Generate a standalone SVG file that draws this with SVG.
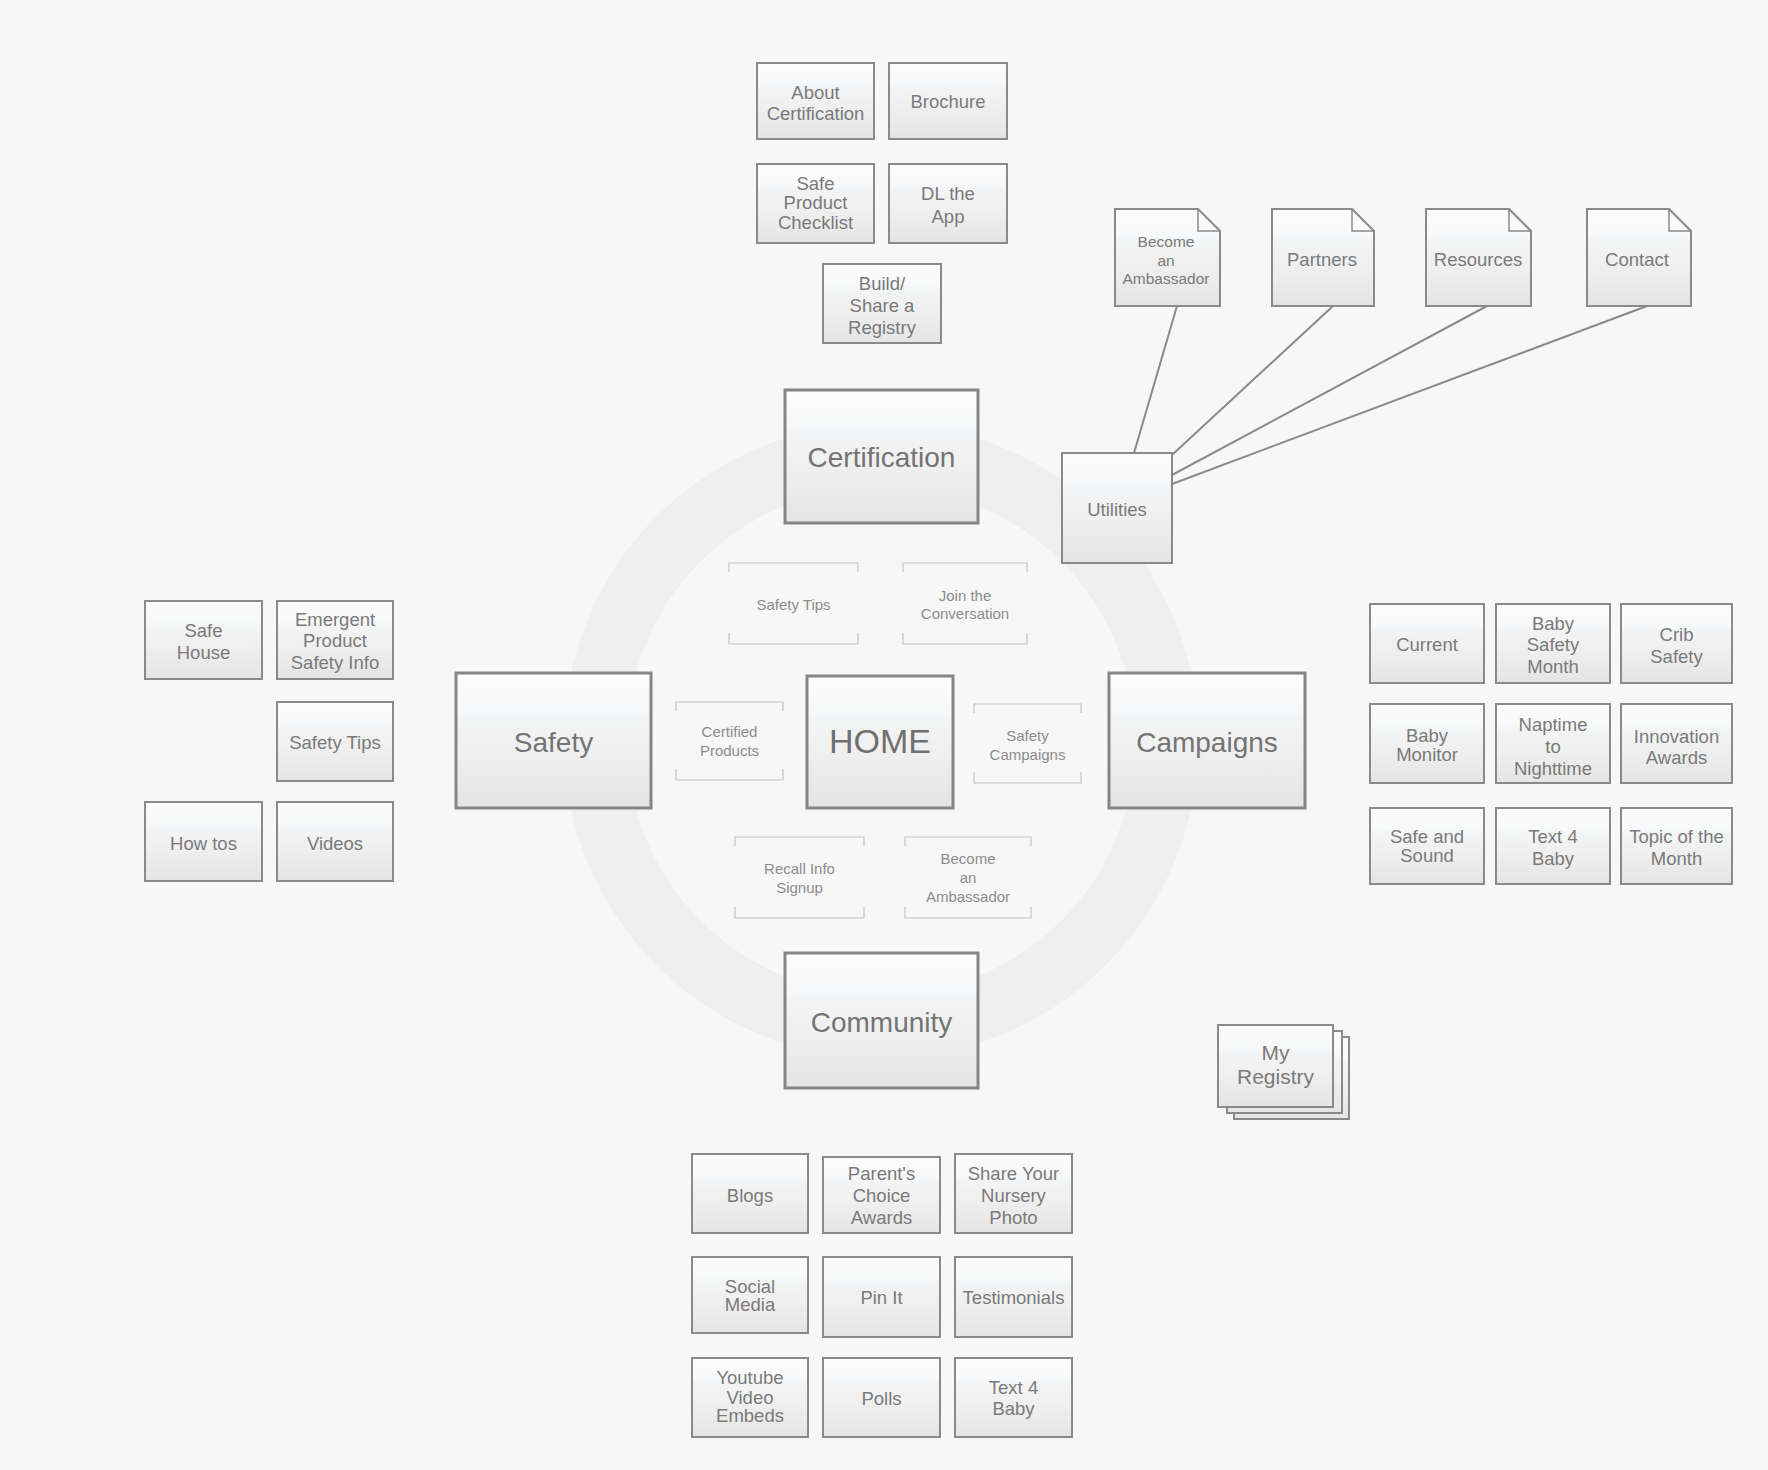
<svg xmlns="http://www.w3.org/2000/svg" width="1768" height="1470" viewBox="0 0 1768 1470">
<defs>
<linearGradient id="g" x1="0" y1="0" x2="0" y2="1">
<stop offset="0" stop-color="#fcfcfc"/>
<stop offset="0.28" stop-color="#f7f8f9"/>
<stop offset="0.32" stop-color="#f3f4f5"/>
<stop offset="0.6" stop-color="#efefef"/>
<stop offset="1" stop-color="#e4e4e4"/>
</linearGradient>
<style>
.bg{fill:#f7f7f7}
.ring{fill:none;stroke:#efefef;stroke-width:63}
.b{fill:url(#g);stroke:#8a8a8a;stroke-width:2}
.B{fill:url(#g);stroke:#858585;stroke-width:3}
.d{fill:url(#g);stroke:#8a8a8a;stroke-width:2;stroke-linejoin:miter}
.fold{fill:none;stroke:#8a8a8a;stroke-width:1.5}
.br{fill:none;stroke:#c4c4c4;stroke-width:1.2}
.c{fill:none;stroke:#8a8a8a;stroke-width:2}
text{font-family:"Liberation Sans",Arial,Helvetica,sans-serif;text-anchor:middle;fill:#7a7a7a}
.t{font-size:18.5px}
.s{font-size:15.5px}
.i{font-size:15px;fill:#8c8c8c}
.L{font-size:28px;fill:#747474}
.H{font-size:34px;fill:#707070}
.r{font-size:21px}
</style>
</defs>
<rect class="bg" x="0" y="0" width="1768" height="1470"/>
<circle class="ring" cx="881" cy="741" r="286"/>

<g id="connectors">
<line class="c" x1="1177" y1="306" x2="1134" y2="453"/>
<line class="c" x1="1333" y1="306" x2="1172" y2="455"/>
<line class="c" x1="1487" y1="306" x2="1172" y2="475"/>
<line class="c" x1="1647" y1="306" x2="1172" y2="484"/>
</g>

<!-- Certification cluster -->
<g id="about-certification"><rect class="b" x="757" y="63" width="117" height="76"/><text class="t" x="815.5" y="98.5">About</text><text class="t" x="815.5" y="119.5">Certification</text></g>
<g id="brochure"><rect class="b" x="889" y="63" width="118" height="76"/><text class="t" x="948" y="108">Brochure</text></g>
<g id="safe-product-checklist"><rect class="b" x="757" y="164" width="117" height="79"/><text class="t" x="815.5" y="189.5">Safe</text><text class="t" x="815.5" y="208.5">Product</text><text class="t" x="815.5" y="228.5">Checklist</text></g>
<g id="dl-the-app"><rect class="b" x="889" y="164" width="118" height="79"/><text class="t" x="948" y="199.5">DL the</text><text class="t" x="948" y="222.5">App</text></g>
<g id="build-share-registry"><rect class="b" x="823" y="264" width="118" height="79"/><text class="t" x="882" y="289.5">Build/</text><text class="t" x="882" y="311.5">Share a</text><text class="t" x="882" y="333.5">Registry</text></g>

<!-- Utilities cluster -->
<g id="become-ambassador-doc"><path class="d" d="M1115,209 H1198 L1220,231 V306 H1115 Z"/><path class="fold" d="M1198,209 V231 H1220"/><text class="s" x="1166" y="246.5">Become</text><text class="s" x="1166" y="265.5">an</text><text class="s" x="1166" y="283.5">Ambassador</text></g>
<g id="partners"><path class="d" d="M1272,209 H1352 L1374,231 V306 H1272 Z"/><path class="fold" d="M1352,209 V231 H1374"/><text class="t" x="1322" y="265.5">Partners</text></g>
<g id="resources"><path class="d" d="M1426,209 H1509 L1531,231 V306 H1426 Z"/><path class="fold" d="M1509,209 V231 H1531"/><text class="t" x="1478" y="265.5">Resources</text></g>
<g id="contact"><path class="d" d="M1587,209 H1669 L1691,231 V306 H1587 Z"/><path class="fold" d="M1669,209 V231 H1691"/><text class="t" x="1637" y="265.5">Contact</text></g>
<g id="utilities"><rect class="b" x="1062" y="453" width="110" height="110"/><text class="t" x="1117" y="515.5">Utilities</text></g>

<!-- Main nodes -->
<g id="certification"><rect class="B" x="785" y="390" width="193" height="133"/><text class="L" x="881.5" y="467">Certification</text></g>
<g id="safety"><rect class="B" x="456" y="673" width="195" height="135"/><text class="L" x="553.5" y="752">Safety</text></g>
<g id="home"><rect class="B" x="807" y="676" width="146" height="132"/><text class="H" x="880" y="753">HOME</text></g>
<g id="campaigns"><rect class="B" x="1109" y="673" width="196" height="135"/><text class="L" x="1207" y="752">Campaigns</text></g>
<g id="community"><rect class="B" x="785" y="953" width="193" height="135"/><text class="L" x="881.5" y="1032">Community</text></g>

<!-- Inner bracket nodes -->
<g id="inner-safety-tips"><path class="br" d="M729,572 V563 H858 V572 M729,633 V644 H858 V633"/><text class="i" x="793.5" y="610">Safety Tips</text></g>
<g id="join-conversation"><path class="br" d="M903,572 V563 H1027 V572 M903,633 V644 H1027 V633"/><text class="i" x="965" y="601">Join the</text><text class="i" x="965" y="619">Conversation</text></g>
<g id="certified-products"><path class="br" d="M676,711 V702 H783 V711 M676,769 V780 H783 V769"/><text class="i" x="729.5" y="737">Certified</text><text class="i" x="729.5" y="756">Products</text></g>
<g id="safety-campaigns"><path class="br" d="M974,713 V704 H1081 V713 M974,772 V783 H1081 V772"/><text class="i" x="1027.5" y="741">Safety</text><text class="i" x="1027.5" y="760">Campaigns</text></g>
<g id="recall-info-signup"><path class="br" d="M735,846 V837 H864 V846 M735,907 V918 H864 V907"/><text class="i" x="799.5" y="874">Recall Info</text><text class="i" x="799.5" y="893">Signup</text></g>
<g id="inner-become-ambassador"><path class="br" d="M905,846 V837 H1031 V846 M905,907 V918 H1031 V907"/><text class="i" x="968" y="864">Become</text><text class="i" x="968" y="883">an</text><text class="i" x="968" y="902">Ambassador</text></g>

<!-- Safety cluster -->
<g id="safe-house"><rect class="b" x="145" y="601" width="117" height="78"/><text class="t" x="203.5" y="636.5">Safe</text><text class="t" x="203.5" y="658.5">House</text></g>
<g id="emergent-product-safety-info"><rect class="b" x="277" y="601" width="116" height="78"/><text class="t" x="335" y="625.5">Emergent</text><text class="t" x="335" y="646.5">Product</text><text class="t" x="335" y="668.5">Safety Info</text></g>
<g id="safety-tips"><rect class="b" x="277" y="702" width="116" height="79"/><text class="t" x="335" y="748.5">Safety Tips</text></g>
<g id="how-tos"><rect class="b" x="145" y="802" width="117" height="79"/><text class="t" x="203.5" y="849.5">How tos</text></g>
<g id="videos"><rect class="b" x="277" y="802" width="116" height="79"/><text class="t" x="335" y="849.5">Videos</text></g>

<!-- Campaigns cluster -->
<g id="current"><rect class="b" x="1370" y="604" width="114" height="79"/><text class="t" x="1427" y="650.5">Current</text></g>
<g id="baby-safety-month"><rect class="b" x="1496" y="604" width="114" height="79"/><text class="t" x="1553" y="629.5">Baby</text><text class="t" x="1553" y="650.5">Safety</text><text class="t" x="1553" y="672.5">Month</text></g>
<g id="crib-safety"><rect class="b" x="1621" y="604" width="111" height="79"/><text class="t" x="1676.5" y="640.5">Crib</text><text class="t" x="1676.5" y="662.5">Safety</text></g>
<g id="baby-monitor"><rect class="b" x="1370" y="704" width="114" height="79"/><text class="t" x="1427" y="741.5">Baby</text><text class="t" x="1427" y="760.5">Monitor</text></g>
<g id="naptime-to-nighttime"><rect class="b" x="1496" y="704" width="114" height="79"/><text class="t" x="1553" y="730.5">Naptime</text><text class="t" x="1553" y="752.5">to</text><text class="t" x="1553" y="774.5">Nighttime</text></g>
<g id="innovation-awards"><rect class="b" x="1621" y="704" width="111" height="79"/><text class="t" x="1676.5" y="742.5">Innovation</text><text class="t" x="1676.5" y="763.5">Awards</text></g>
<g id="safe-and-sound"><rect class="b" x="1370" y="808" width="114" height="76"/><text class="t" x="1427" y="842.5">Safe and</text><text class="t" x="1427" y="861.5">Sound</text></g>
<g id="campaign-text4baby"><rect class="b" x="1496" y="808" width="114" height="76"/><text class="t" x="1553" y="842.5">Text 4</text><text class="t" x="1553" y="864.5">Baby</text></g>
<g id="topic-of-the-month"><rect class="b" x="1621" y="808" width="111" height="76"/><text class="t" x="1676.5" y="842.5">Topic of the</text><text class="t" x="1676.5" y="864.5">Month</text></g>

<!-- My Registry -->
<g id="my-registry"><rect class="b" x="1234" y="1037" width="115" height="82"/><rect class="b" x="1227" y="1031" width="115" height="82"/><rect class="b" x="1218" y="1025" width="115" height="82"/><text class="r" x="1275.5" y="1060">My</text><text class="r" x="1275.5" y="1084">Registry</text></g>

<!-- Community cluster -->
<g id="blogs"><rect class="b" x="692" y="1154" width="116" height="79"/><text class="t" x="750" y="1201.5">Blogs</text></g>
<g id="parents-choice-awards"><rect class="b" x="823" y="1157" width="117" height="76"/><text class="t" x="881.5" y="1179.5">Parent's</text><text class="t" x="881.5" y="1201.5">Choice</text><text class="t" x="881.5" y="1223.5">Awards</text></g>
<g id="share-nursery-photo"><rect class="b" x="955" y="1154" width="117" height="79"/><text class="t" x="1013.5" y="1179.5">Share Your</text><text class="t" x="1013.5" y="1201.5">Nursery</text><text class="t" x="1013.5" y="1223.5">Photo</text></g>
<g id="social-media"><rect class="b" x="692" y="1257" width="116" height="76"/><text class="t" x="750" y="1292.5">Social</text><text class="t" x="750" y="1310.5">Media</text></g>
<g id="pin-it"><rect class="b" x="823" y="1257" width="117" height="80"/><text class="t" x="881.5" y="1303.5">Pin It</text></g>
<g id="testimonials"><rect class="b" x="955" y="1257" width="117" height="80"/><text class="t" x="1013.5" y="1303.5">Testimonials</text></g>
<g id="youtube-video-embeds"><rect class="b" x="692" y="1358" width="116" height="79"/><text class="t" x="750" y="1383.5">Youtube</text><text class="t" x="750" y="1403.5">Video</text><text class="t" x="750" y="1421.5">Embeds</text></g>
<g id="polls"><rect class="b" x="823" y="1358" width="117" height="79"/><text class="t" x="881.5" y="1404.5">Polls</text></g>
<g id="community-text4baby"><rect class="b" x="955" y="1358" width="117" height="79"/><text class="t" x="1013.5" y="1393.5">Text 4</text><text class="t" x="1013.5" y="1414.5">Baby</text></g>
</svg>
